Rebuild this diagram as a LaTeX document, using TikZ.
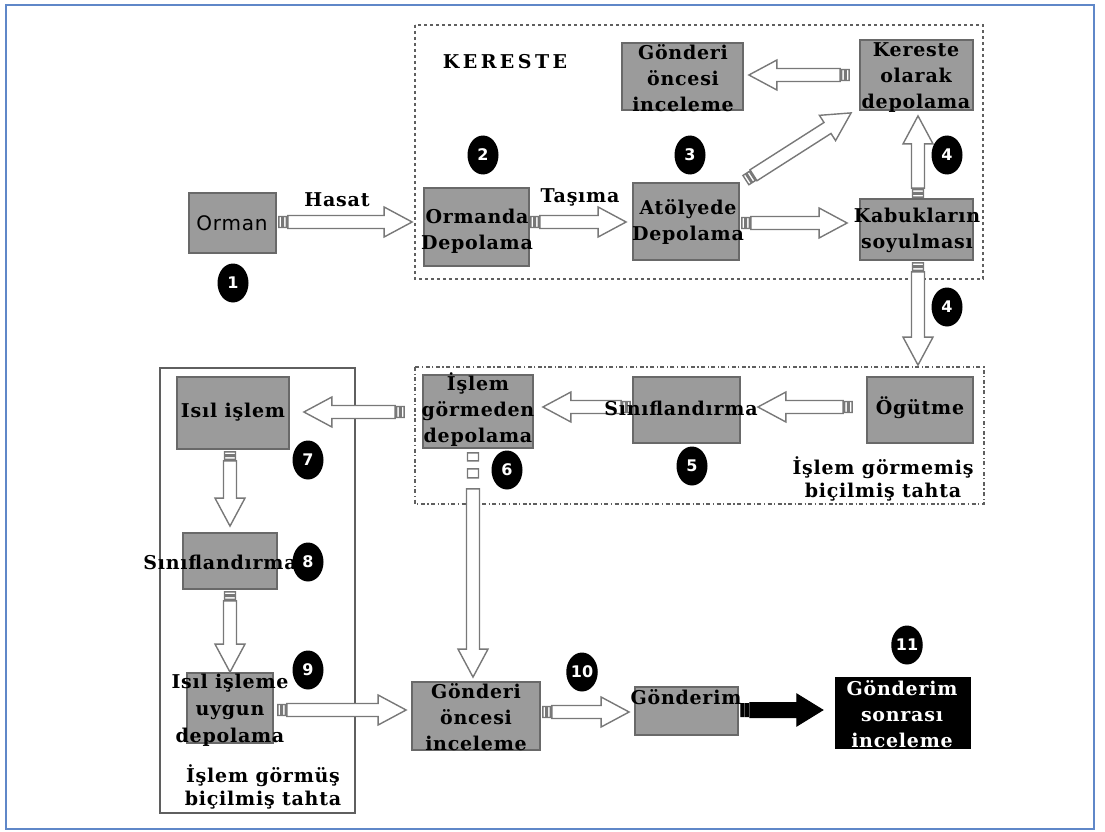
\documentclass[tikz,border=0pt]{standalone}
\usepackage{fontspec}
\usetikzlibrary{calc,shapes.geometric}
\newfontfamily\slab{DejaVu Serif}[LetterSpace=4]
\newfontfamily\sansnum{DejaVu Sans}
\newfontfamily\ormanfont{DejaVu Sans}[LetterSpace=4]
\definecolor{boxgray}{RGB}{155,155,155}
\definecolor{boxedge}{RGB}{105,105,105}
\definecolor{arredge}{RGB}{120,120,120}
\definecolor{framebl}{RGB}{95,135,200}
\definecolor{grpedge}{RGB}{95,95,95}
\newcommand\AP[2]{({\x1+\n2*(#1)-\n3*(#2)},{\y1+\n3*(#1)+\n2*(#2)})}
\def\tsa{0}\def\tsb{3}\def\tsc{4.5}\def\tsd{7.5}\def\tst{9}
\newcommand\blockarrow[6][]{%
 \path[#1] let \p1=(#2), \p2=(#3), \n1={veclen(\x2-\x1,\y2-\y1)}, \n2={(\x2-\x1)/\n1}, \n3={(\y2-\y1)/\n1} in
  \AP{\tsa}{#4-1} -- \AP{\tsb}{#4-1} -- \AP{\tsb}{1-#4} -- \AP{\tsa}{1-#4} -- cycle
  \AP{\tsc}{#4-1} -- \AP{\tsd}{#4-1} -- \AP{\tsd}{1-#4} -- \AP{\tsc}{1-#4} -- cycle
  \AP{\tst}{#4} -- \AP{\n1-#6}{#4} -- \AP{\n1-#6}{#5} -- (\p2) -- \AP{\n1-#6}{-#5} -- \AP{\n1-#6}{-#4} -- \AP{\tst}{-#4} -- cycle;}
\newcommand\harr[3][]{\blockarrow[hollow,#1]{#2}{#3}{6.5}{15}{28}}
\begin{document}
\begin{tikzpicture}[x=1pt,y=-1pt,
  box/.style={draw=boxedge,fill=boxgray,line width=1.8pt,inner sep=0pt},
  blackbox/.style={draw=black,fill=black,inner sep=0pt},
  lbl/.style={font=\slab\bfseries\fontsize{19}{26}\selectfont,align=center,inner sep=0pt},
  num/.style={ellipse,fill=black,minimum width=31,minimum height=39,inner sep=0pt,text=white,font=\sansnum\bfseries\fontsize{16}{18}\selectfont},
  hollow/.style={draw=arredge,fill=white,line width=1.4pt},
  solidarr/.style={draw=black,fill=black,line width=1pt},
  kdash/.style={draw=grpedge,line width=1.5pt,dash pattern=on 3pt off 3pt},
  ddash/.style={draw=grpedge,line width=1.3pt,dash pattern=on 4pt off 2.5pt on 1.2pt off 2.5pt},
  tgrp/.style={draw=grpedge,line width=1.2pt}]
\useasboundingbox (0,0) rectangle (1105,832);
\draw[framebl,line width=2.2pt] (6,5) rectangle (1094,829);
% groups
\draw[kdash] (415,25) rectangle (983,279);
\draw[ddash] (415,367) rectangle (984,504);
\draw[tgrp] (160,368) rectangle (355,813);
% boxes
\node[box,minimum width=87,minimum height=60] (orman) at (232.5,223) {};
\node[box,minimum width=105,minimum height=78] (ormd) at (476.5,227) {};
\node[box,minimum width=106,minimum height=77] (atol) at (686,221.5) {};
\node[box,minimum width=113,minimum height=61] (kab) at (916.5,229.5) {};
\node[box,minimum width=113,minimum height=70] (kerd) at (916.5,75) {};
\node[box,minimum width=121,minimum height=67] (gon1) at (682.5,76.5) {};
\node[box,minimum width=106,minimum height=66] (ogut) at (920,410) {};
\node[box,minimum width=107,minimum height=66] (sinif1) at (686.5,410) {};
\node[box,minimum width=110,minimum height=73] (islgor) at (478,411.5) {};
\node[box,minimum width=112,minimum height=72] (isil) at (233,413) {};
\node[box,minimum width=94,minimum height=56] (sinif2) at (230,561) {};
\node[box,minimum width=86,minimum height=70] (isuyg) at (230,708) {};
\node[box,minimum width=128,minimum height=68] (gon2) at (476,716) {};
\node[box,minimum width=103,minimum height=48] (gonm) at (686.5,711) {};
\node[blackbox,minimum width=135,minimum height=71] (gson) at (902.5,712.5) {};
% arrows
\harr{$(orman.east)+(2,-1)$}{$(ormd.west)+(-11,-5)$}
\harr{$(ormd.east)+(1,-5)$}{$(atol.west)+(-6,0.5)$}
\harr{$(atol.east)+(2,1.5)$}{$(kab.west)+(-12,-6.5)$}
\harr{$(atol.north east)+(6,-2)$}{$(kerd.south west)+(-8,2)$}
\harr{$(kab.north)+(1.5,-1)$}{$(kerd.south)+(1.5,5)$}
\harr{$(kerd.west)+(-10,0)$}{$(gon1.east)+(5,-1.5)$}
\harr{$(kab.south)+(1.5,2)$}{$(ogut.north)+(-2,-11)$}
\harr{$(ogut.west)+(-14,-3)$}{$(sinif1.east)+(17,-3)$}
\harr{$(sinif1.west)+(-2,-3)$}{$(islgor.east)+(9,-4.5)$}
\harr{$(islgor.west)+(-18,0.5)$}{$(isil.east)+(14,-1)$}
\harr{$(isil.south)+(-3,2)$}{$(sinif2.north)+(0,-6)$}
\harr{$(sinif2.south)+(0,2)$}{$(isuyg.north)+(0,0)$}
{\def\tsa{0}\def\tsb{8}\def\tsc{16}\def\tsd{25}\def\tst{36}%
\harr{$(islgor.south)+(-5,4)$}{$(gon2.north)+(-3,-4)$}}
\harr{$(isuyg.east)+(4,2)$}{$(gon2.west)+(-5,-6)$}
\harr{$(gon2.east)+(2,-4)$}{$(gonm.west)+(-5,1)$}
\blockarrow[solidarr]{$(gonm.east)+(2,-1)$}{$(gson.west)+(-12,-2.5)$}{7.5}{16}{26}
% texts
\node[lbl,font=\slab\bfseries\addfontfeature{LetterSpace=18}\fontsize{19}{20}\selectfont] (tker) at (505,62) {KERESTE};
\node[font=\ormanfont\fontsize{20}{22}\selectfont,inner sep=0pt] (torman) at (232,223) {Orman};
\node[lbl] (thasat) at (337,200) {Hasat};
\node[lbl] (ttasima) at (580,197) {Taşıma};
\node[lbl] (tormd) at (477,231) {Ormanda\\Depolama};
\node[lbl] (tatol) at (688,222) {Atölyede\\Depolama};
\node[lbl] (tkab) at (917,230) {Kabukların\\soyulması};
\node[lbl] (tkerd) at (916,78) {Kereste\\olarak\\depolama};
\node[lbl] (tgon1) at (683,78) {Gönderi\\öncesi\\inceleme};
\node[lbl] (tislgor) at (478,410) {İşlem\\görmeden\\depolama};
\node[lbl] (tsinif1) at (681,408) {Sınıflandırma};
\node[lbl] (togut) at (920,408) {Ögütme};
\node[lbl,font=\slab\bfseries\fontsize{19}{23}\selectfont] (tuntr) at (883,479) {İşlem görmemiş\\biçilmiş tahta};
\node[lbl] (tisil) at (233,412) {Isıl işlem};
\node[lbl] (tsinif2) at (220,562) {Sınıflandırma};
\node[lbl,font=\slab\bfseries\fontsize{19}{27}\selectfont] (tisuyg) at (230,710) {Isıl işleme\\uygun\\depolama};
\node[lbl,font=\slab\bfseries\fontsize{19}{23}\selectfont] (ttreat) at (263,787) {İşlem görmüş\\biçilmiş tahta};
\node[lbl] (tgon2) at (476,717) {Gönderi\\öncesi\\inceleme};
\node[lbl] (tgonm) at (686,697) {Gönderim};
\node[lbl,text=white] (tgson) at (902,714) {Gönderim\\sonrası\\inceleme};
% numbers
\node[num] (n1) at (233,283) {1};
\node[num] (n2) at (483,155) {2};
\node[num] (n3) at (690,155) {3};
\node[num] (n4a) at (947,155) {4};
\node[num] (n4b) at (947,307) {4};
\node[num] (n5) at (692,466) {5};
\node[num] (n6) at (507,470) {6};
\node[num] (n7) at (308,460) {7};
\node[num] (n8) at (308,562) {8};
\node[num] (n9) at (308,670) {9};
\node[num] (n10) at (582,672) {10};
\node[num] (n11) at (907,645) {11};
\end{tikzpicture}
\end{document}
